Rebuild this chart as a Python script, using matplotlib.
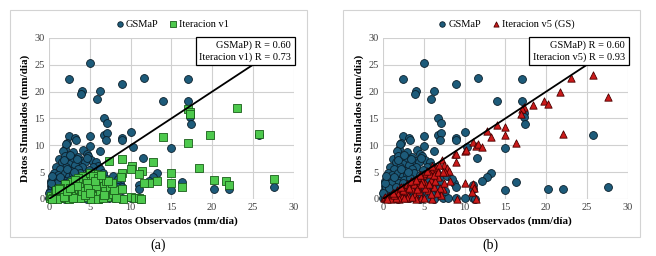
import numpy as np
import matplotlib
matplotlib.use("Agg")
import matplotlib.pyplot as plt
from matplotlib.patches import Rectangle

plt.rcParams['font.family'] = ['Liberation Serif', 'DejaVu Serif']

# GSMaP (observado, simulado) - igual en los dos paneles
gsmap_pts = [
    (5.0, 25.3), (2.4, 22.3), (11.7, 22.6), (17.1, 22.4), (9.0, 21.4),
    (4.1, 20.1), (3.9, 19.5), (6.3, 20.2), (5.9, 18.6), (14.0, 18.3),
    (17.0, 18.3), (17.3, 16.0), (17.3, 15.3), (17.4, 13.9), (6.8, 15.0),
    (7.1, 14.1), (2.4, 11.7), (3.2, 11.3), (3.3, 11.0), (5.0, 11.8),
    (6.8, 12.0), (7.1, 12.3), (7.0, 10.9), (8.9, 11.3), (9.0, 10.9),
    (10.1, 12.5), (10.3, 9.7), (15.0, 9.5), (25.8, 11.9), (11.5, 7.7),
    (13.3, 4.9), (12.8, 4.1), (12.2, 3.3), (16.3, 3.1), (14.9, 1.7),
    (20.2, 1.9), (22.1, 1.8), (27.6, 2.3),
    (2.0, 9.3), (2.2, 10.4), (2.1, 10.2), (5.0, 9.8), (4.2, 9.1), (3.0, 8.7),
    (1.7, 8.9), (4.6, 8.4), (4.8, 8.0), (6.3, 8.9), (3.6, 7.9), (2.8, 7.6),
    (1.2, 7.4), (1.9, 8.1), (3.9, 7.0), (5.2, 7.2), (5.8, 6.9), (6.0, 6.2),
    (4.4, 6.8), (2.5, 6.6), (1.6, 6.8), (0.9, 6.0), (2.1, 6.0), (3.2, 6.3),
    (4.0, 5.9), (5.4, 5.9), (4.9, 5.4), (3.5, 5.5), (2.7, 5.2), (1.4, 5.5),
    (0.6, 4.8), (1.1, 4.5), (1.9, 4.8), (2.4, 4.3), (3.0, 4.6), (3.8, 4.9),
    (4.5, 4.4), (5.1, 4.7), (5.9, 4.5), (0.3, 3.3), (0.5, 3.9), (0.9, 3.5),
    (1.5, 3.8), (2.0, 3.3), (2.6, 3.6), (3.3, 3.9), (4.1, 3.5), (4.8, 3.3),
    (5.5, 3.6), (6.4, 3.2), (0.2, 2.5), (0.6, 2.8), (1.2, 2.6), (1.8, 2.9),
    (2.3, 2.4), (3.0, 2.8), (3.6, 2.5), (4.3, 2.7), (5.0, 2.2), (5.8, 2.6),
    (6.5, 2.3), (0.1, 1.5), (0.4, 1.9), (0.8, 1.4), (1.4, 1.8), (2.0, 1.5),
    (2.7, 1.9), (3.4, 1.6), (4.0, 1.9), (4.7, 1.4), (5.4, 1.7), (6.1, 1.3),
    (0.1, 0.8), (0.3, 0.5), (0.6, 1.0), (1.0, 0.6), (1.6, 0.9), (2.2, 0.7),
    (2.9, 1.0), (3.7, 0.8), (4.4, 0.5), (5.2, 0.8), (6.6, 0.6), (0.0, 0.2),
    (0.2, 0.1), (0.5, 0.3), (0.9, 0.1), (1.3, 0.2), (1.9, 0.0), (2.5, 0.3),
    (3.2, 0.1), (3.9, 0.2), (4.6, 0.0), (5.6, 0.2), (6.2, 0.0), (7.3, 0.1),
    (8.0, 0.2), (9.0, 0.1), (10.0, 0.2), (11.0, 0.1), (11.3, 0.0), (7.6, 1.4),
    (8.7, 3.0), (9.0, 2.3), (11.0, 2.6), (11.0, 1.9), (6.9, 4.0), (7.8, 4.3),
    (8.5, 3.8), (0.4, 2.2), (1.0, 3.0), (0.7, 2.0), (0.2, 3.0), (0.0, 1.1),
    (0.4, 4.3), (1.3, 4.1), (2.2, 5.6), (3.1, 5.0), (1.8, 7.2), (2.6, 8.2),
    (3.4, 7.4), (4.7, 7.6), (5.6, 5.1), (6.2, 5.6), (6.6, 4.8), (7.0, 2.9),
    (6.8, 1.9), (2.4, 3.0), (3.7, 3.2), (1.6, 2.3), (2.8, 1.3), (4.4, 1.1),
    (5.9, 0.9),
]

# Iteracion v1
v1_pts = [
    (17.0, 16.8), (17.3, 16.2), (17.3, 15.9), (23.1, 16.9), (14.0, 11.6),
    (19.8, 12.0), (25.8, 12.1), (17.1, 10.5), (7.3, 7.1), (9.0, 7.5),
    (12.8, 6.9), (10.2, 6.2), (10.0, 5.5), (11.4, 5.2), (11.0, 4.6),
    (9.0, 4.9), (8.8, 4.1), (15.0, 4.9), (18.4, 5.8), (13.3, 3.4),
    (12.2, 2.9), (11.6, 3.0), (14.9, 3.0), (16.3, 2.2), (20.2, 3.5),
    (21.7, 3.3), (22.1, 2.6), (27.6, 3.8), (9.0, 1.8), (9.1, 0.0),
    (10.0, 0.3), (10.6, 0.2), (11.0, 0.2), (11.3, 0.0),
    (0.1, 0.1), (0.3, 0.5), (0.5, 0.2), (0.7, 0.9), (0.9, 0.3), (1.1, 1.2),
    (1.3, 0.6), (1.5, 0.1), (1.7, 1.5), (1.9, 0.8), (2.1, 0.2), (2.3, 1.9),
    (2.5, 1.1), (2.7, 0.4), (2.9, 2.3), (3.1, 1.4), (3.3, 0.6), (3.5, 2.8),
    (3.7, 1.8), (3.9, 0.9), (4.1, 3.3), (4.3, 2.2), (4.5, 1.2), (4.7, 0.3),
    (4.9, 3.8), (5.1, 2.6), (5.3, 1.6), (5.5, 0.7), (5.7, 4.6), (5.9, 3.1),
    (6.1, 2.0), (6.3, 1.0), (6.5, 3.6), (6.7, 2.5), (6.9, 1.4), (7.1, 0.4),
    (4.2, 4.3), (3.6, 3.9), (5.0, 4.9), (5.4, 4.2), (6.0, 4.0), (2.8, 3.2),
    (2.0, 2.7), (1.4, 2.1), (0.8, 1.6), (3.2, 3.5), (4.6, 3.0), (5.8, 2.4),
    (7.0, 3.3), (7.5, 2.2), (7.8, 1.0), (8.2, 0.2), (8.0, 1.7), (7.7, 2.9),
    (7.2, 3.3), (1.0, 0.0), (2.4, 0.0), (3.8, 0.1), (5.2, 0.0), (6.0, 0.0),
    (6.6, 0.1), (4.0, 1.5), (3.0, 0.2), (1.8, 0.3), (0.4, 0.0), (4.8, 2.0),
    (5.6, 3.4), (6.4, 4.4), (6.8, 0.8), (2.2, 1.4), (3.4, 2.4), (4.4, 0.8),
    (5.0, 1.1), (1.2, 1.8), (2.6, 2.0),
]

# Iteracion v5 (GS)
v5_pts = [
    (25.7, 23.1), (23.1, 22.6), (27.6, 19.0), (21.7, 19.9), (19.7, 18.2),
    (20.2, 17.7), (18.4, 17.6), (17.3, 17.2), (17.0, 16.8), (16.9, 15.8),
    (22.1, 12.2), (16.3, 10.4), (14.9, 13.5), (14.0, 13.8), (15.0, 12.0),
    (12.8, 12.6), (13.3, 11.5), (11.0, 10.6), (11.4, 9.8), (11.7, 10.3),
    (12.2, 9.6), (10.0, 9.0), (10.2, 9.2), (8.8, 8.4), (9.0, 8.3),
    (9.0, 6.8), (7.2, 7.2), (7.5, 6.3), (7.9, 5.8), (8.1, 5.2), (7.6, 5.1),
    (8.2, 3.3), (7.4, 1.8), (10.0, 3.0), (11.0, 2.8), (11.1, 2.1),
    (10.9, 1.3), (9.1, 0.0), (11.4, 0.0),
    (0.1, 0.1), (0.3, 0.3), (0.5, 0.4), (0.7, 0.6), (0.9, 0.2), (1.1, 0.9),
    (1.3, 1.2), (1.5, 0.5), (1.7, 1.6), (1.9, 1.0), (2.1, 2.0), (2.3, 0.3),
    (2.5, 2.3), (2.7, 1.4), (2.9, 2.7), (3.1, 0.6), (3.3, 3.0), (3.5, 1.9),
    (3.7, 3.4), (3.9, 1.0), (4.1, 3.8), (4.3, 2.5), (4.5, 4.1), (4.7, 0.2),
    (4.9, 4.4), (5.1, 3.0), (5.3, 4.8), (5.5, 1.6), (5.7, 5.2), (5.9, 3.6),
    (6.1, 5.6), (6.3, 2.2), (6.5, 5.9), (6.7, 4.1), (6.9, 6.3), (7.1, 0.8),
    (2.0, 0.0), (3.0, 0.1), (4.0, 0.0), (5.0, 0.1), (6.0, 0.0), (1.0, 0.0),
    (0.5, 0.0), (1.6, 0.1), (2.6, 0.2), (3.6, 0.3), (4.4, 1.4), (5.2, 2.1),
    (6.4, 3.3), (5.8, 4.6), (4.8, 3.4), (3.8, 2.8), (2.4, 1.6), (1.4, 0.8),
    (3.2, 2.1), (4.2, 1.8), (5.6, 2.7), (6.2, 4.5), (6.8, 5.0), (7.0, 2.0),
    (6.6, 1.2), (6.0, 6.1), (5.4, 5.3), (4.6, 4.5), (3.4, 3.3), (2.2, 2.2),
    (1.2, 1.1), (7.3, 5.0), (7.5, 3.0), (4.0, 3.5), (4.7, 2.7), (5.9, 1.0),
]

r_gsmap = 0.60
r_v1 = 0.73
r_v5 = 0.93
ticks = [0, 5, 10, 15, 20, 25, 30]

gs = np.array(gsmap_pts)
v1 = np.array(v1_pts)
v5 = np.array(v5_pts)

fig = plt.figure(figsize=(6.56, 2.56), dpi=100)

# marcos de cada panel
for x0 in [10 / 656, 343 / 656]:
    fig.patches.append(Rectangle((x0, 0.074), 0.4525, 0.887, transform=fig.transFigure,
                                 fill=False, edgecolor='#d3d3d3', linewidth=0.8))

panels = [
    (0.0747, v1, 's', 30, '#4dc94d', '#1a5e1a', 'Iteracion v1', r_v1, '(a)', 0.241),
    (0.5838, v5, '^', 28, '#cc1a1a', '#4a0000', 'Iteracion v5 (GS)', r_v5, '(b)', 0.748),
]

for left, it, mk, sz, fc, ec, name, r_it, cap, capx in panels:
    ax = fig.add_axes([left, 0.2227, 0.373, 0.629])
    ax.scatter(gs[:, 0], gs[:, 1], s=32, marker='o', facecolor='#1d5b7a',
               edgecolor='#0a1e2a', linewidth=0.6, zorder=3, clip_on=False, label='GSMaP')
    ax.scatter(it[:, 0], it[:, 1], s=sz, marker=mk, facecolor=fc,
               edgecolor=ec, linewidth=0.6, zorder=4, clip_on=False, label=name)
    ax.plot([0, 30], [0, 30], color='black', linewidth=1.3, zorder=5)

    ax.set_xlim(0, 30)
    ax.set_ylim(0, 30)
    ax.set_xticks(ticks)
    ax.set_yticks(ticks)
    ax.grid(True, color='#d0d0d0', linewidth=0.8)
    ax.set_axisbelow(True)
    for sp in ax.spines.values():
        sp.set_visible(False)
    ax.tick_params(length=0, labelsize=7.5, colors='#404040', pad=3)
    ax.set_xlabel('Datos Observados (mm/día)', fontsize=8, fontweight='bold', labelpad=3)
    ax.set_ylabel('Datos SImulados (mm/día)', fontsize=8, fontweight='bold', labelpad=3)

    short = name.split(' (')[0]
    ax.text(0.99, 0.985, f'GSMaP) R = {r_gsmap:.2f}\n{short}) R = {r_it:.2f}',
            transform=ax.transAxes, ha='right', va='top', fontsize=7.5, zorder=10,
            linespacing=1.3,
            bbox=dict(boxstyle='square,pad=0.35', facecolor='white',
                      edgecolor='black', linewidth=0.9))

    ax.legend(loc='lower center', bbox_to_anchor=(0.5, 1.03), ncol=2, frameon=False,
              fontsize=7.5, handletextpad=0.0, columnspacing=0.8, borderaxespad=0,
              markerscale=0.7, handlelength=1.2)

    fig.text(capx, 0.043, cap, ha='center', va='center', fontsize=10)

fig.savefig('out.png', dpi=100, facecolor='white')
